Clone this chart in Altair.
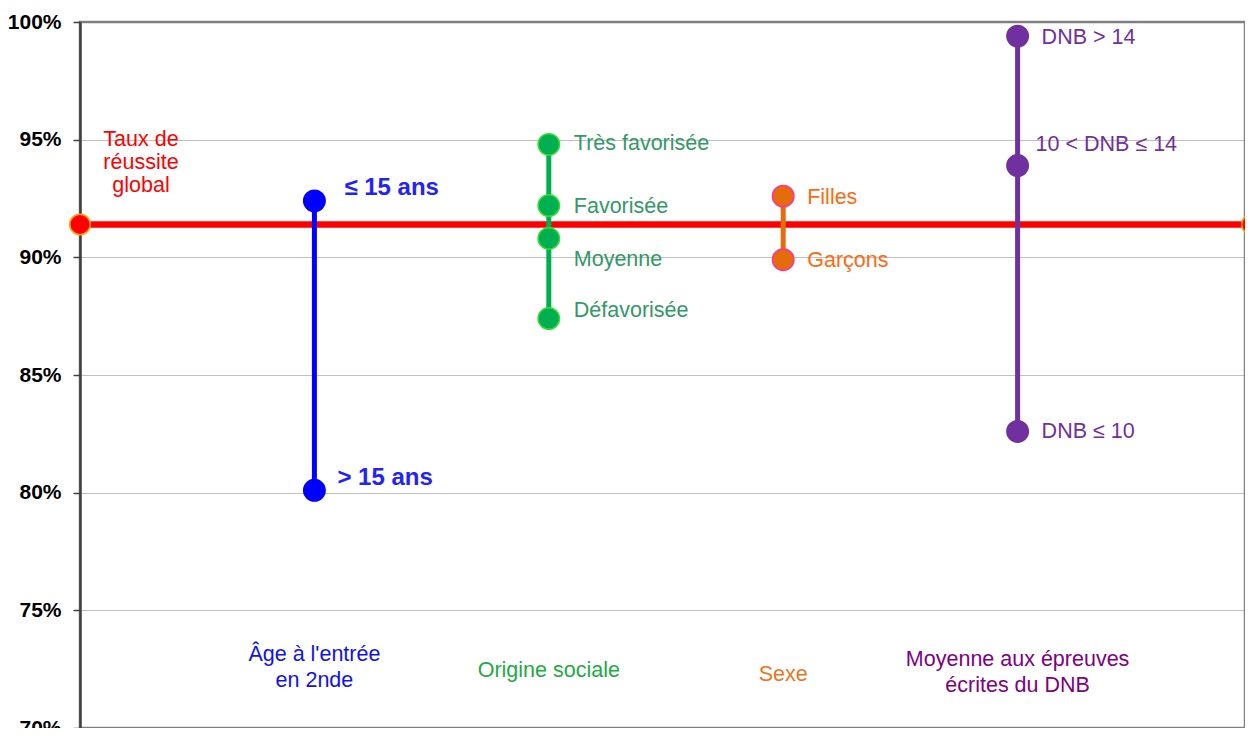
import altair as alt
import pandas as pd

# ---- data ----
cat_names = ["Âge à l'entrée\nen 2nde", "Origine sociale", "Sexe", "Moyenne aux épreuves\nécrites du DNB"]
cat_pos = [1, 2, 3, 4]

global_rate = 0.914
global_x = [0, 5]
global_label = "Taux de\nréussite\nglobal"

age_labels = ["≤ 15 ans", "> 15 ans"]
age_values = [0.924, 0.801]

social_labels = ["Très favorisée", "Favorisée", "Moyenne", "Défavorisée"]
social_values = [0.948, 0.922, 0.908, 0.874]

sex_labels = ["Filles", "Garçons"]
sex_values = [0.926, 0.899]

dnb_labels = ["DNB > 14", "10 < DNB ≤ 14", "DNB ≤ 10"]
dnb_values = [0.994, 0.939, 0.826]

# ---- layout / styles ----
W, H = 1165, 706
PX_PER_X = 234.4
X_DOMAIN = [0, W / PX_PER_X]
Y_DOMAIN = [0.70, 1.00]
px_x = PX_PER_X
px_y = H / (Y_DOMAIN[1] - Y_DOMAIN[0])

line_colors = ["#0000FF", "#00B050", "#E46C0A", "#7030A0"]
dot_strokes = ["#0000FF", "#33DD33", "#FF3399", "#7030A0"]
label_colors = ["#2222FF", "#339966", "#FF6A10", "#7030A0"]
cat_label_colors = ["#1111EE", "#22AA44", "#E87722", "#800080"]
label_bold = [True, False, False, False]
# label offsets (px) per point: (right, down)
age_off = [(30, -13), (23, -12)]
social_off = [(25, 0), (25, 1), (25, 21), (25, -8)]
sex_off = [(24, 2), (24, 1)]
dnb_off = [(24, 2), (18, -21), (24, 1)]
# category label first-line positions (px from plot top)
cat_label_py = [633, 649, 653, 638]
glob_label_pos = (61, 118)  # px from plot left/top (first line)

FONT = "Liberation Sans"
FS = 21.5

groups = [
    (age_labels, age_values, age_off),
    (social_labels, social_values, social_off),
    (sex_labels, sex_values, sex_off),
    (dnb_labels, dnb_values, dnb_off),
]

rows = []
for i, (labs, vals, offs) in enumerate(groups):
    for lab, v, (dx, dy) in zip(labs, vals, offs):
        rows.append(dict(x=cat_pos[i], v=v, label=lab,
                         lx=cat_pos[i] + dx / px_x, lv=v - dy / px_y,
                         line=line_colors[i], stroke=dot_strokes[i],
                         tcol=label_colors[i], bold=label_bold[i]))
pts = pd.DataFrame(rows)

rng = pd.DataFrame([dict(x=cat_pos[i], lo=min(g[1]), hi=max(g[1]), line=line_colors[i])
                    for i, g in enumerate(groups)])

cats = pd.DataFrame(dict(x=cat_pos, y=[Y_DOMAIN[1] - p / px_y for p in cat_label_py],
                         name=cat_names, col=cat_label_colors))

glob = pd.DataFrame(dict(x=global_x, v=[global_rate] * len(global_x)))
glob_label_df = pd.DataFrame(dict(x=[X_DOMAIN[0] + glob_label_pos[0] / px_x],
                                  v=[Y_DOMAIN[1] - glob_label_pos[1] / px_y],
                                  t=[global_label]))

xs = alt.Scale(domain=X_DOMAIN, nice=False, zero=False)
ys = alt.Scale(domain=Y_DOMAIN, nice=False, zero=False)

yaxis = alt.Axis(format=".0%", values=[0.70, 0.75, 0.80, 0.85, 0.90, 0.95, 1.00],
                 title=None, labelFont=FONT, labelFontSize=21, labelFontWeight="bold",
                 labelColor="#000000", tickSize=7, tickColor="#404040", tickWidth=1.5,
                 labelPadding=12, domainColor="#404040", domainWidth=2.5,
                 grid=True, gridColor="#808080", gridDash=[1, 1], gridWidth=1)

base_axis = alt.Chart(glob).mark_point(opacity=0).encode(
    x=alt.X("x:Q", scale=xs, axis=None),
    y=alt.Y("v:Q", scale=ys, axis=yaxis),
)

glob_line = alt.Chart(glob).mark_line(color="#FF0000", strokeWidth=6.5).encode(
    x=alt.X("x:Q", scale=xs), y=alt.Y("v:Q", scale=ys))
glob_dots = alt.Chart(glob).mark_point(filled=True, shape="circle", size=420,
                                       fill="#FF0000", stroke="#FFA500", strokeWidth=1.5,
                                       opacity=1).encode(
    x=alt.X("x:Q", scale=xs), y=alt.Y("v:Q", scale=ys))
glob_text = alt.Chart(glob_label_df).mark_text(font=FONT, fontSize=FS, color="#FF0000",
                                               lineBreak="\n", lineHeight=23,
                                               align="center", baseline="middle").encode(
    x=alt.X("x:Q", scale=xs), y=alt.Y("v:Q", scale=ys), text="t:N")

rules = alt.Chart(rng).mark_rule(strokeWidth=5).encode(
    x=alt.X("x:Q", scale=xs), y=alt.Y("lo:Q", scale=ys), y2="hi:Q",
    color=alt.Color("line:N", scale=None))

dots = alt.Chart(pts).mark_point(filled=True, shape="circle", size=460,
                                 strokeWidth=1.5, opacity=1).encode(
    x=alt.X("x:Q", scale=xs), y=alt.Y("v:Q", scale=ys),
    fill=alt.Fill("line:N", scale=None), stroke=alt.Stroke("stroke:N", scale=None))

lab_norm = alt.Chart(pts).transform_filter("!datum.bold").mark_text(
    font=FONT, fontSize=FS, align="left", baseline="middle").encode(
    x=alt.X("lx:Q", scale=xs), y=alt.Y("lv:Q", scale=ys), text="label:N",
    color=alt.Color("tcol:N", scale=None))

lab_bold = alt.Chart(pts).transform_filter("datum.bold").mark_text(
    font=FONT, fontSize=24, fontWeight="bold", align="left", baseline="middle").encode(
    x=alt.X("lx:Q", scale=xs), y=alt.Y("lv:Q", scale=ys), text="label:N",
    color=alt.Color("tcol:N", scale=None))

cat_text = alt.Chart(cats).mark_text(font=FONT, fontSize=FS, lineBreak="\n", lineHeight=26,
                                     align="center", baseline="middle").encode(
    x=alt.X("x:Q", scale=xs), y=alt.Y("y:Q", scale=ys), text="name:N",
    color=alt.Color("col:N", scale=None))

chart = alt.layer(base_axis, glob_line, rules, dots, glob_dots, glob_text, lab_norm, lab_bold,
                  cat_text).properties(
    width=W, height=H,
    autosize=alt.AutoSizeParams(type="none"),
    padding={"left": 72, "top": 14, "right": 0, "bottom": 0},
    background="#FFFFFF",
).configure_view(stroke="#808080", strokeWidth=2.5)

chart.save("out.html", embed_options={"renderer": "svg", "actions": False})
